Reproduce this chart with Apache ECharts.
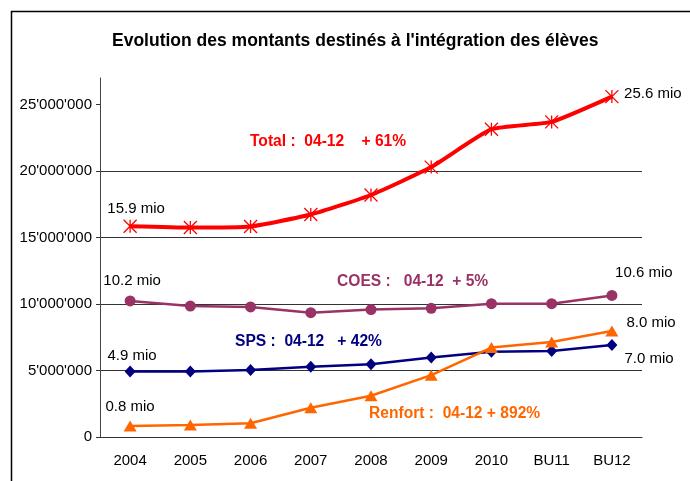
<!DOCTYPE html>
<html><head><meta charset="utf-8">
<script src="https://cdn.jsdelivr.net/npm/echarts@6/dist/echarts.min.js"></script>
<style>html,body{margin:0;padding:0;background:#fff}#c{width:690px;height:481px}</style>
</head><body><div id="c"></div>
<script>
const categories = ['2004','2005','2006','2007','2008','2009','2010','BU11','BU12'];
const totalValues   = [15850000, 15750000, 15830000, 16730000, 18200000, 20300000, 23150000, 23700000, 25600000];
const coesValues    = [10230000, 9850000, 9780000, 9350000, 9580000, 9680000, 10030000, 10030000, 10650000];
const spsValues     = [4930000, 4930000, 5030000, 5280000, 5480000, 5980000, 6420000, 6470000, 6920000];
const renfortValues = [830000, 900000, 1030000, 2200000, 3100000, 4650000, 6730000, 7150000, 7970000];
const yTicks = [0, 5000000, 10000000, 15000000, 20000000, 25000000];
const endLabels = {
  total: ['15.9 mio', '25.6 mio'],
  coes: ['10.2 mio', '10.6 mio'],
  sps: ['4.9 mio', '7.0 mio'],
  renfort: ['0.8 mio', '8.0 mio']
};
const notes = [
  {text: 'Total :  04-12    + 61%', color: '#FF0000'},
  {text: 'COES :   04-12  + 5%', color: '#993366'},
  {text: 'SPS :  04-12   + 42%', color: '#000080'},
  {text: 'Renfort :  04-12 + 892%', color: '#FF6600'}
];
const FONT = 'Liberation Sans, Arial, sans-serif';
function fmt(v){ return String(v).replace(/\B(?=(\d{3})+(?!\d))/g, "'"); }
function withLabels(values, labels, firstCfg, lastCfg){
  return values.map((v, i) => {
    if (i === 0) return {value: v, label: Object.assign({show: true, formatter: labels[0], color: '#000', fontSize: 15, fontFamily: FONT}, firstCfg)};
    if (i === values.length - 1) return {value: v, label: Object.assign({show: true, formatter: labels[1], color: '#000', fontSize: 15, fontFamily: FONT}, lastCfg)};
    return v;
  });
}
const notePos = [[250,143],[337,283],[235,343],[369,415]];
const chart = echarts.init(document.getElementById('c'));
chart.setOption({
  animation: false,
  backgroundColor: '#fff',
  title: {text: "Evolution des montants destinés à l'intégration des élèves", left: 107, top: 27,
    textStyle: {fontFamily: FONT, fontSize: 17.5, fontWeight: 'bold', color: '#000'}},
  grid: {left: 100, right: 48, top: 78, bottom: 44},
  xAxis: {type: 'category', data: categories, boundaryGap: true,
    axisLine: {lineStyle: {color: '#333', width: 1}}, axisTick: {show: false},
    axisLabel: {color: '#000', fontSize: 15, fontFamily: FONT, margin: 16}},
  yAxis: {type: 'value', min: 0, max: 27000000, interval: 5000000,
    axisLine: {show: true, lineStyle: {color: '#444', width: 1}},
    axisTick: {show: true, length: 4, lineStyle: {color: '#333'}, customValues: yTicks},
    axisLabel: {color: '#000', fontSize: 15, fontFamily: FONT, margin: 8, formatter: fmt, customValues: yTicks},
    splitLine: {show: true, showMaxLine: false, lineStyle: {color: '#333', width: 1}}},
  graphic: [
    {type: 'rect', shape: {x: 11.5, y: 11.5, width: 900, height: 700}, style: {fill: 'none', stroke: '#000', lineWidth: 1.5}, silent: true}
  ].concat(notes.map((n, i) => ({type: 'text', left: notePos[i][0], top: notePos[i][1] - 9,
    style: {text: n.text, fill: n.color, font: 'bold 15.6px ' + FONT}}))),
  series: [
    {name: 'Total', type: 'line', data: withLabels(totalValues, endLabels.total,
        {position: 'top', offset: [6, 2]}, {position: 'right', offset: [0, -3]}),
      smooth: 0.15, symbol: 'path://M0,0L10,10M10,0L0,10M5,0L5,10', symbolSize: 13,
      lineStyle: {color: '#FF0000', width: 4},
      itemStyle: {color: 'rgba(0,0,0,0)', borderColor: '#FF0000', borderWidth: 1.3}, z: 5},
    {name: 'COES', type: 'line', data: withLabels(coesValues, endLabels.coes,
        {position: 'top', offset: [2, -2]}, {position: 'top', offset: [32, -5]}),
      symbol: 'circle', symbolSize: 11,
      lineStyle: {color: '#993366', width: 2.5}, itemStyle: {color: '#993366'}},
    {name: 'SPS', type: 'line', data: withLabels(spsValues, endLabels.sps,
        {position: 'top', offset: [2, 3]}, {position: 'right', offset: [2, 14]}),
      symbol: 'diamond', symbolSize: [11, 12],
      lineStyle: {color: '#000080', width: 2.5}, itemStyle: {color: '#000080'}},
    {name: 'Renfort', type: 'line', data: withLabels(renfortValues, endLabels.renfort,
        {position: 'top', offset: [0, -1]}, {position: 'right', offset: [3, -8]}),
      symbol: 'triangle', symbolSize: [13, 11],
      lineStyle: {color: '#FF6600', width: 2.5}, itemStyle: {color: '#FF6600'}}
  ]
});
</script></body></html>
